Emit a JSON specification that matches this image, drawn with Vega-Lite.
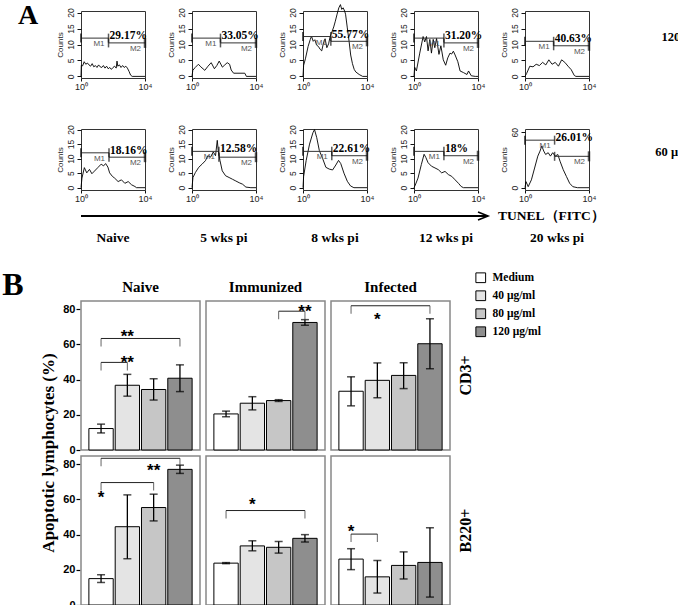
{
"$schema":"https://vega.github.io/schema/vega-lite/v6.json",
"background":"white",
"padding":{"left":2,"top":2,"right":0,"bottom":0},
"config":{"view":{"stroke":"#333","strokeWidth":1},"font":"Liberation Sans","axis":{"labelOverlap":false}},
"datasets":{
"curves":[
{"p":"a1","x":0,"n":0},{"p":"a1","x":0.02,"n":3.5},{"p":"a1","x":0.1,"n":3.3},{"p":"a1","x":0.2,"n":4.6},{"p":"a1","x":0.3,"n":3.8},{"p":"a1","x":0.4,"n":4.2},{"p":"a1","x":0.5,"n":3.6},{"p":"a1","x":0.6,"n":3.2},{"p":"a1","x":0.7,"n":4.0},{"p":"a1","x":0.8,"n":3.0},{"p":"a1","x":0.9,"n":3.4},{"p":"a1","x":1.0,"n":2.8},{"p":"a1","x":1.1,"n":3.6},{"p":"a1","x":1.2,"n":3.0},{"p":"a1","x":1.3,"n":2.8},{"p":"a1","x":1.4,"n":3.4},{"p":"a1","x":1.5,"n":2.6},{"p":"a1","x":1.6,"n":3.2},{"p":"a1","x":1.7,"n":2.4},{"p":"a1","x":1.8,"n":2.8},{"p":"a1","x":1.9,"n":2.2},{"p":"a1","x":2.0,"n":2.8},{"p":"a1","x":2.1,"n":3.2},{"p":"a1","x":2.2,"n":2.6},{"p":"a1","x":2.25,"n":4.8},{"p":"a1","x":2.3,"n":3.2},{"p":"a1","x":2.4,"n":3.6},{"p":"a1","x":2.5,"n":2.8},{"p":"a1","x":2.6,"n":3.4},{"p":"a1","x":2.7,"n":2.8},{"p":"a1","x":2.8,"n":3.2},{"p":"a1","x":2.9,"n":2.6},{"p":"a1","x":3.0,"n":1.6},{"p":"a1","x":3.1,"n":0.4},{"p":"a1","x":3.2,"n":0},{"p":"a1","x":4,"n":0},
{"p":"a2","x":0,"n":0},{"p":"a2","x":0.05,"n":1.9},{"p":"a2","x":0.2,"n":2.8},{"p":"a2","x":0.4,"n":3.8},{"p":"a2","x":0.55,"n":3.0},{"p":"a2","x":0.8,"n":1.9},{"p":"a2","x":1.0,"n":3.2},{"p":"a2","x":1.2,"n":4.3},{"p":"a2","x":1.4,"n":2.4},{"p":"a2","x":1.55,"n":3.4},{"p":"a2","x":1.7,"n":4.8},{"p":"a2","x":1.9,"n":2.9},{"p":"a2","x":2.05,"n":3.6},{"p":"a2","x":2.2,"n":4.3},{"p":"a2","x":2.35,"n":3.8},{"p":"a2","x":2.45,"n":2.0},{"p":"a2","x":2.6,"n":1.0},{"p":"a2","x":3.0,"n":1.0},{"p":"a2","x":3.3,"n":1.0},{"p":"a2","x":3.4,"n":0},{"p":"a2","x":4,"n":0},
{"p":"a3","x":0,"n":0},{"p":"a3","x":0.04,"n":3.5},{"p":"a3","x":0.15,"n":5.5},{"p":"a3","x":0.32,"n":9.4},{"p":"a3","x":0.45,"n":11.5},{"p":"a3","x":0.53,"n":12.6},{"p":"a3","x":0.64,"n":11.0},{"p":"a3","x":0.74,"n":11.5},{"p":"a3","x":0.85,"n":9.8},{"p":"a3","x":0.96,"n":9.4},{"p":"a3","x":1.07,"n":8.5},{"p":"a3","x":1.17,"n":8.0},{"p":"a3","x":1.28,"n":10.5},{"p":"a3","x":1.38,"n":11.8},{"p":"a3","x":1.49,"n":9.0},{"p":"a3","x":1.6,"n":10.2},{"p":"a3","x":1.7,"n":12.6},{"p":"a3","x":1.81,"n":14.0},{"p":"a3","x":1.92,"n":15.5},{"p":"a3","x":2.02,"n":17.3},{"p":"a3","x":2.13,"n":19.5},{"p":"a3","x":2.24,"n":21.5},{"p":"a3","x":2.34,"n":22.5},{"p":"a3","x":2.42,"n":21.0},{"p":"a3","x":2.51,"n":21.5},{"p":"a3","x":2.6,"n":20.5},{"p":"a3","x":2.66,"n":19.5},{"p":"a3","x":2.77,"n":15.2},{"p":"a3","x":2.88,"n":11.0},{"p":"a3","x":2.98,"n":6.7},{"p":"a3","x":3.09,"n":4.0},{"p":"a3","x":3.2,"n":2.2},{"p":"a3","x":3.3,"n":1.4},{"p":"a3","x":3.51,"n":0.6},{"p":"a3","x":3.73,"n":0},{"p":"a3","x":4,"n":0},
{"p":"a4","x":0,"n":0},{"p":"a4","x":0.04,"n":2.9},{"p":"a4","x":0.15,"n":1.7},{"p":"a4","x":0.36,"n":7.3},{"p":"a4","x":0.57,"n":12.5},{"p":"a4","x":0.67,"n":10.8},{"p":"a4","x":0.78,"n":12.5},{"p":"a4","x":0.88,"n":8.0},{"p":"a4","x":0.99,"n":11.6},{"p":"a4","x":1.09,"n":7.3},{"p":"a4","x":1.2,"n":11.6},{"p":"a4","x":1.3,"n":9.0},{"p":"a4","x":1.41,"n":11.9},{"p":"a4","x":1.56,"n":6.9},{"p":"a4","x":1.68,"n":9.6},{"p":"a4","x":1.83,"n":5.2},{"p":"a4","x":1.98,"n":3.5},{"p":"a4","x":2.11,"n":5.8},{"p":"a4","x":2.25,"n":7.3},{"p":"a4","x":2.35,"n":7.0},{"p":"a4","x":2.46,"n":7.9},{"p":"a4","x":2.57,"n":6.7},{"p":"a4","x":2.74,"n":4.6},{"p":"a4","x":2.88,"n":1.7},{"p":"a4","x":3.09,"n":1.2},{"p":"a4","x":3.31,"n":0.6},{"p":"a4","x":3.41,"n":1.7},{"p":"a4","x":3.58,"n":0.2},{"p":"a4","x":3.83,"n":0},{"p":"a4","x":4,"n":0},
{"p":"a5","x":0,"n":0},{"p":"a5","x":0.1,"n":0.9},{"p":"a5","x":0.3,"n":3.2},{"p":"a5","x":0.5,"n":3.0},{"p":"a5","x":0.7,"n":3.8},{"p":"a5","x":0.9,"n":3.4},{"p":"a5","x":1.1,"n":4.4},{"p":"a5","x":1.3,"n":3.6},{"p":"a5","x":1.49,"n":5.2},{"p":"a5","x":1.69,"n":3.8},{"p":"a5","x":1.89,"n":4.4},{"p":"a5","x":2.09,"n":3.2},{"p":"a5","x":2.29,"n":5.2},{"p":"a5","x":2.49,"n":4.4},{"p":"a5","x":2.69,"n":3.2},{"p":"a5","x":2.89,"n":2.1},{"p":"a5","x":3.08,"n":0.3},{"p":"a5","x":3.18,"n":0},{"p":"a5","x":4,"n":0},
{"p":"b1","x":0,"n":0},{"p":"b1","x":0.06,"n":3.3},{"p":"b1","x":0.21,"n":6.9},{"p":"b1","x":0.36,"n":5.1},{"p":"b1","x":0.53,"n":6.3},{"p":"b1","x":0.68,"n":4.8},{"p":"b1","x":0.84,"n":5.7},{"p":"b1","x":1.05,"n":6.9},{"p":"b1","x":1.26,"n":8.1},{"p":"b1","x":1.41,"n":7.5},{"p":"b1","x":1.54,"n":8.3},{"p":"b1","x":1.68,"n":7.1},{"p":"b1","x":1.79,"n":5.1},{"p":"b1","x":1.96,"n":3.9},{"p":"b1","x":2.1,"n":3.3},{"p":"b1","x":2.32,"n":2.1},{"p":"b1","x":2.53,"n":2.7},{"p":"b1","x":2.74,"n":1.5},{"p":"b1","x":2.95,"n":2.1},{"p":"b1","x":3.16,"n":1.0},{"p":"b1","x":3.37,"n":0.4},{"p":"b1","x":3.47,"n":0},{"p":"b1","x":4,"n":0},
{"p":"b2","x":0,"n":0},{"p":"b2","x":0.06,"n":3.5},{"p":"b2","x":0.21,"n":5.2},{"p":"b2","x":0.42,"n":7.0},{"p":"b2","x":0.63,"n":8.1},{"p":"b2","x":0.84,"n":9.3},{"p":"b2","x":0.99,"n":11.0},{"p":"b2","x":1.16,"n":10.5},{"p":"b2","x":1.33,"n":12.3},{"p":"b2","x":1.47,"n":11.0},{"p":"b2","x":1.58,"n":16.3},{"p":"b2","x":1.64,"n":12.8},{"p":"b2","x":1.75,"n":9.3},{"p":"b2","x":1.89,"n":5.8},{"p":"b2","x":2.1,"n":4.1},{"p":"b2","x":2.32,"n":3.5},{"p":"b2","x":2.53,"n":2.9},{"p":"b2","x":2.74,"n":2.3},{"p":"b2","x":2.95,"n":1.7},{"p":"b2","x":3.16,"n":1.2},{"p":"b2","x":3.37,"n":0.2},{"p":"b2","x":3.68,"n":0},{"p":"b2","x":4,"n":0},
{"p":"b3","x":0,"n":0},{"p":"b3","x":0.04,"n":3.9},{"p":"b3","x":0.2,"n":9.4},{"p":"b3","x":0.41,"n":15.0},{"p":"b3","x":0.62,"n":18.9},{"p":"b3","x":0.72,"n":20.0},{"p":"b3","x":0.86,"n":17.2},{"p":"b3","x":1.02,"n":12.8},{"p":"b3","x":1.23,"n":10.0},{"p":"b3","x":1.43,"n":7.0},{"p":"b3","x":1.64,"n":6.4},{"p":"b3","x":1.85,"n":6.1},{"p":"b3","x":2.05,"n":7.8},{"p":"b3","x":2.22,"n":9.4},{"p":"b3","x":2.36,"n":8.3},{"p":"b3","x":2.56,"n":5.0},{"p":"b3","x":2.77,"n":2.2},{"p":"b3","x":2.97,"n":0.6},{"p":"b3","x":3.18,"n":0},{"p":"b3","x":4,"n":0},
{"p":"b4","x":0,"n":0},{"p":"b4","x":0.08,"n":0.9},{"p":"b4","x":0.25,"n":3.3},{"p":"b4","x":0.46,"n":8.0},{"p":"b4","x":0.63,"n":11.5},{"p":"b4","x":0.74,"n":10.4},{"p":"b4","x":0.88,"n":8.6},{"p":"b4","x":1.09,"n":7.4},{"p":"b4","x":1.31,"n":6.8},{"p":"b4","x":1.52,"n":6.2},{"p":"b4","x":1.73,"n":5.1},{"p":"b4","x":1.94,"n":5.6},{"p":"b4","x":2.15,"n":4.5},{"p":"b4","x":2.36,"n":3.9},{"p":"b4","x":2.57,"n":2.7},{"p":"b4","x":2.78,"n":1.5},{"p":"b4","x":2.95,"n":0.4},{"p":"b4","x":3.09,"n":0},{"p":"b4","x":4,"n":0},
{"p":"b5","x":0,"n":0},{"p":"b5","x":0.06,"n":6.6},{"p":"b5","x":0.2,"n":1.1},{"p":"b5","x":0.4,"n":8.5},{"p":"b5","x":0.6,"n":21.3},{"p":"b5","x":0.8,"n":34.2},{"p":"b5","x":0.94,"n":39.7},{"p":"b5","x":1.05,"n":45.2},{"p":"b5","x":1.17,"n":39.7},{"p":"b5","x":1.29,"n":36.0},{"p":"b5","x":1.45,"n":37.9},{"p":"b5","x":1.59,"n":34.2},{"p":"b5","x":1.73,"n":37.9},{"p":"b5","x":1.89,"n":34.2},{"p":"b5","x":2.05,"n":36.0},{"p":"b5","x":2.19,"n":28.7},{"p":"b5","x":2.39,"n":19.5},{"p":"b5","x":2.59,"n":12.1},{"p":"b5","x":2.79,"n":4.8},{"p":"b5","x":2.99,"n":1.1},{"p":"b5","x":3.28,"n":0},{"p":"b5","x":4,"n":0}
],
"gates":[
{"p":"a1","lo":0,"sep":1.72,"hi":4,"m1":12,"m2":10.5,"pct":"29.17%"},
{"p":"a2","lo":0,"sep":1.78,"hi":4,"m1":12,"m2":10.5,"pct":"33.05%"},
{"p":"a3","lo":0,"sep":1.74,"hi":4,"m1":12.5,"m2":11,"pct":"55.77%"},
{"p":"a4","lo":0,"sep":1.87,"hi":4,"m1":12,"m2":10.5,"pct":"31.20%"},
{"p":"a5","lo":0,"sep":1.79,"hi":4,"m1":11,"m2":9.6,"pct":"40.63%"},
{"p":"b1","lo":0,"sep":1.75,"hi":4,"m1":12,"m2":10.5,"pct":"18.16%"},
{"p":"b2","lo":0,"sep":1.68,"hi":4,"m1":12.5,"m2":10.5,"pct":"12.58%"},
{"p":"b3","lo":0,"sep":1.8,"hi":4,"m1":12.5,"m2":11,"pct":"22.61%"},
{"p":"b4","lo":0,"sep":1.87,"hi":4,"m1":12.5,"m2":11,"pct":"18%"},
{"p":"b5","lo":0,"sep":1.85,"hi":4,"m1":51.5,"m2":34,"pct":"26.01%"}
],
"timepoints":[{"t":"Naive"},{"t":"5 wks pi"},{"t":"8 wks pi"},{"t":"12 wks pi"},{"t":"20 wks pi"}],
"panelB":[
{"cell":"CD3+","grp":"Naive","dose":"Medium","mean":12.2,"lo":9.7,"hi":14.7},
{"cell":"CD3+","grp":"Naive","dose":"40","mean":36.8,"lo":30.6,"hi":43.0},
{"cell":"CD3+","grp":"Naive","dose":"80","mean":34.4,"lo":28.4,"hi":40.5},
{"cell":"CD3+","grp":"Naive","dose":"120","mean":40.8,"lo":33.2,"hi":48.4},
{"cell":"CD3+","grp":"Immunized","dose":"Medium","mean":20.5,"lo":18.9,"hi":22.1},
{"cell":"CD3+","grp":"Immunized","dose":"40","mean":26.6,"lo":22.8,"hi":30.3},
{"cell":"CD3+","grp":"Immunized","dose":"80","mean":28.1,"lo":27.6,"hi":28.6},
{"cell":"CD3+","grp":"Immunized","dose":"120","mean":72.5,"lo":70.9,"hi":74.1},
{"cell":"CD3+","grp":"Infected","dose":"Medium","mean":33.4,"lo":25.1,"hi":41.6},
{"cell":"CD3+","grp":"Infected","dose":"40","mean":39.6,"lo":29.7,"hi":49.5},
{"cell":"CD3+","grp":"Infected","dose":"80","mean":42.4,"lo":34.9,"hi":49.6},
{"cell":"CD3+","grp":"Infected","dose":"120","mean":60.4,"lo":46.2,"hi":74.6},
{"cell":"B220+","grp":"Naive","dose":"Medium","mean":15.0,"lo":12.8,"hi":17.2},
{"cell":"B220+","grp":"Naive","dose":"40","mean":44.5,"lo":26.3,"hi":62.6},
{"cell":"B220+","grp":"Naive","dose":"80","mean":55.4,"lo":47.8,"hi":63.0},
{"cell":"B220+","grp":"Naive","dose":"120","mean":77.1,"lo":74.8,"hi":79.5},
{"cell":"B220+","grp":"Immunized","dose":"Medium","mean":23.8,"lo":23.5,"hi":24.1},
{"cell":"B220+","grp":"Immunized","dose":"40","mean":33.6,"lo":30.8,"hi":36.5},
{"cell":"B220+","grp":"Immunized","dose":"80","mean":32.8,"lo":29.5,"hi":36.1},
{"cell":"B220+","grp":"Immunized","dose":"120","mean":37.9,"lo":35.8,"hi":40.0},
{"cell":"B220+","grp":"Infected","dose":"Medium","mean":26.1,"lo":20.1,"hi":32.0},
{"cell":"B220+","grp":"Infected","dose":"40","mean":16.0,"lo":6.8,"hi":25.3},
{"cell":"B220+","grp":"Infected","dose":"80","mean":22.5,"lo":14.8,"hi":30.2},
{"cell":"B220+","grp":"Infected","dose":"120","mean":24.2,"lo":4.5,"hi":43.9},
{"cell":"CD3+","grp":"Naive","bk":"c1","end":"Medium","level":63.4},{"cell":"CD3+","grp":"Naive","bk":"c1","end":"120","level":63.4},
{"cell":"CD3+","grp":"Naive","bk":"c2","end":"Medium","level":49.8},{"cell":"CD3+","grp":"Naive","bk":"c2","end":"40","level":49.8},
{"cell":"CD3+","grp":"Immunized","bk":"c3","end":"80","level":78.9},{"cell":"CD3+","grp":"Immunized","bk":"c3","end":"120","level":78.9},
{"cell":"CD3+","grp":"Infected","bk":"c4","end":"Medium","level":82},{"cell":"CD3+","grp":"Infected","bk":"c4","end":"120","level":82},
{"cell":"B220+","grp":"Naive","bk":"d1","end":"Medium","level":83.4},{"cell":"B220+","grp":"Naive","bk":"d1","end":"120","level":83.4},
{"cell":"B220+","grp":"Naive","bk":"d2","end":"Medium","level":69.6},{"cell":"B220+","grp":"Naive","bk":"d2","end":"80","level":69.6},
{"cell":"B220+","grp":"Immunized","bk":"d3","end":"Medium","level":53.7},{"cell":"B220+","grp":"Immunized","bk":"d3","end":"120","level":53.7},
{"cell":"B220+","grp":"Infected","bk":"d4","end":"Medium","level":40.3},{"cell":"B220+","grp":"Infected","bk":"d4","end":"40","level":40.3},
{"cell":"CD3+","grp":"Naive","stars":"**","at":"40","sy":66.5},
{"cell":"CD3+","grp":"Naive","stars":"**","at":"40","sy":51.8},
{"cell":"CD3+","grp":"Immunized","stars":"**","at":"120","sy":80.8},
{"cell":"CD3+","grp":"Infected","stars":"*","at":"40","sy":76},
{"cell":"B220+","grp":"Naive","stars":"**","at":"80","sy":78.6},
{"cell":"B220+","grp":"Naive","stars":"*","at":"Medium","sy":63},
{"cell":"B220+","grp":"Immunized","stars":"*","at":"40","sy":59.2},
{"cell":"B220+","grp":"Infected","stars":"*","at":"Medium","sy":43.7}
]
},
"columns":1,
"align":"none",
"spacing":21,
"concat":[
{
"title":{"text":"A","orient":"left","angle":0,"anchor":"end","align":"right","baseline":"top","offset":-3,"font":"Liberation Serif","fontSize":28,"fontWeight":"bold","color":"black"},
"spacing":4,
"vconcat":[
{"columns":5,"bounds":"flush","spacing":{"row":51,"column":47},"concat":[
{"width":64,"height":67,"layer":[
{"data":{"name":"curves"},"transform":[{"filter":"datum.p == 'a1'"}],"mark":{"type":"line","color":"black","strokeWidth":0.9},"encoding":{"x":{"field":"x","type":"quantitative","scale":{"domain":[0,4],"nice":false,"zero":false},"axis":{"title":null,"values":[0,0.301,0.477,0.602,0.699,0.778,0.845,0.903,0.954,1,1.301,1.477,1.602,1.699,1.778,1.845,1.903,1.954,2,2.301,2.477,2.602,2.699,2.778,2.845,2.903,2.954,3,3.301,3.477,3.602,3.699,3.778,3.845,3.903,3.954,4],"labelExpr":"datum.value == 0 ? '10⁰' : (datum.value == 4 ? '10⁴' : '')","labelOverlap":false,"labelFlush":false,"labelFontSize":9,"labelColor":"#222","labelPadding":1,"tickSize":3,"tickColor":"#111","domain":false,"grid":false}},"y":{"field":"n","type":"quantitative","scale":{"domain":[-0.5,20.5],"nice":false,"zero":false},"axis":{"title":"Counts","values":[0,5,10,15,20],"labelAngle":-90,"labelOverlap":false,"labelFontSize":8.5,"labelColor":"#222","labelPadding":2,"tickSize":4,"tickColor":"#111","domain":false,"grid":false,"titleFontSize":8,"titleFontWeight":"normal","titleColor":"#222","titlePadding":2}}}},
{"data":{"name":"gates"},"transform":[{"filter":"datum.p == 'a1'"}],"layer":[
{"mark":{"type":"rule","color":"#333","strokeWidth":1},"encoding":{"x":{"field":"lo","type":"quantitative","title":null},"x2":{"field":"sep"},"y":{"field":"m1","type":"quantitative","axis":{"title":"Counts","values":[0,5,10,15,20],"labelAngle":-90,"labelOverlap":false}}}},
{"mark":{"type":"rule","color":"#333","strokeWidth":1},"encoding":{"x":{"field":"sep","type":"quantitative","title":null},"x2":{"field":"hi"},"y":{"field":"m2","type":"quantitative","axis":{"title":"Counts","values":[0,5,10,15,20],"labelAngle":-90,"labelOverlap":false}}}},
{"mark":{"type":"tick","orient":"vertical","size":9,"thickness":1.5,"color":"#111"},"encoding":{"x":{"field":"sep","type":"quantitative","title":null},"y":{"field":"m1","type":"quantitative","axis":{"title":"Counts","values":[0,5,10,15,20],"labelAngle":-90,"labelOverlap":false}}}},
{"mark":{"type":"tick","orient":"vertical","size":9,"thickness":1.5,"color":"#111"},"encoding":{"x":{"field":"sep","type":"quantitative","title":null},"y":{"field":"m2","type":"quantitative","axis":{"title":"Counts","values":[0,5,10,15,20],"labelAngle":-90,"labelOverlap":false}}}},
{"mark":{"type":"tick","orient":"vertical","size":9,"thickness":2,"color":"#111"},"encoding":{"x":{"field":"lo","type":"quantitative","title":null},"y":{"field":"m1","type":"quantitative","axis":{"title":"Counts","values":[0,5,10,15,20],"labelAngle":-90,"labelOverlap":false}}}},
{"mark":{"type":"tick","orient":"vertical","size":10,"thickness":2.5,"color":"#111"},"encoding":{"x":{"field":"hi","type":"quantitative","title":null},"y":{"field":"m2","type":"quantitative","axis":{"title":"Counts","values":[0,5,10,15,20],"labelAngle":-90,"labelOverlap":false}}}},
{"mark":{"type":"text","align":"left","baseline":"alphabetic","dx":1,"dy":1,"font":"Liberation Serif","fontWeight":"bold","fontSize":11.5,"color":"black"},"encoding":{"x":{"field":"sep","type":"quantitative","title":null},"y":{"field":"m1","type":"quantitative","axis":{"title":"Counts","values":[0,5,10,15,20],"labelAngle":-90,"labelOverlap":false}},"text":{"field":"pct"}}},
{"mark":{"type":"text","align":"right","baseline":"top","dx":-4,"dy":2,"fontSize":8,"color":"#555"},"encoding":{"x":{"field":"sep","type":"quantitative","title":null},"y":{"field":"m1","type":"quantitative","axis":{"title":"Counts","values":[0,5,10,15,20],"labelAngle":-90,"labelOverlap":false}},"text":{"value":"M1"}}},
{"mark":{"type":"text","align":"right","baseline":"top","dx":-4,"dy":2,"fontSize":8,"color":"#555"},"encoding":{"x":{"field":"hi","type":"quantitative","title":null},"y":{"field":"m2","type":"quantitative","axis":{"title":"Counts","values":[0,5,10,15,20],"labelAngle":-90,"labelOverlap":false}},"text":{"value":"M2"}}}
]}]},
{"width":64,"height":67,"layer":[
{"data":{"name":"curves"},"transform":[{"filter":"datum.p == 'a2'"}],"mark":{"type":"line","color":"black","strokeWidth":0.9},"encoding":{"x":{"field":"x","type":"quantitative","scale":{"domain":[0,4],"nice":false,"zero":false},"axis":{"title":null,"values":[0,0.301,0.477,0.602,0.699,0.778,0.845,0.903,0.954,1,1.301,1.477,1.602,1.699,1.778,1.845,1.903,1.954,2,2.301,2.477,2.602,2.699,2.778,2.845,2.903,2.954,3,3.301,3.477,3.602,3.699,3.778,3.845,3.903,3.954,4],"labelExpr":"datum.value == 0 ? '10⁰' : (datum.value == 4 ? '10⁴' : '')","labelOverlap":false,"labelFlush":false,"labelFontSize":9,"labelColor":"#222","labelPadding":1,"tickSize":3,"tickColor":"#111","domain":false,"grid":false}},"y":{"field":"n","type":"quantitative","scale":{"domain":[-0.5,20.5],"nice":false,"zero":false},"axis":{"title":"Counts","values":[0,5,10,15,20],"labelAngle":-90,"labelOverlap":false,"labelFontSize":8.5,"labelColor":"#222","labelPadding":2,"tickSize":4,"tickColor":"#111","domain":false,"grid":false,"titleFontSize":8,"titleFontWeight":"normal","titleColor":"#222","titlePadding":2}}}},
{"data":{"name":"gates"},"transform":[{"filter":"datum.p == 'a2'"}],"layer":[
{"mark":{"type":"rule","color":"#333","strokeWidth":1},"encoding":{"x":{"field":"lo","type":"quantitative","title":null},"x2":{"field":"sep"},"y":{"field":"m1","type":"quantitative","axis":{"title":"Counts","values":[0,5,10,15,20],"labelAngle":-90,"labelOverlap":false}}}},
{"mark":{"type":"rule","color":"#333","strokeWidth":1},"encoding":{"x":{"field":"sep","type":"quantitative","title":null},"x2":{"field":"hi"},"y":{"field":"m2","type":"quantitative","axis":{"title":"Counts","values":[0,5,10,15,20],"labelAngle":-90,"labelOverlap":false}}}},
{"mark":{"type":"tick","orient":"vertical","size":9,"thickness":1.5,"color":"#111"},"encoding":{"x":{"field":"sep","type":"quantitative","title":null},"y":{"field":"m1","type":"quantitative","axis":{"title":"Counts","values":[0,5,10,15,20],"labelAngle":-90,"labelOverlap":false}}}},
{"mark":{"type":"tick","orient":"vertical","size":9,"thickness":1.5,"color":"#111"},"encoding":{"x":{"field":"sep","type":"quantitative","title":null},"y":{"field":"m2","type":"quantitative","axis":{"title":"Counts","values":[0,5,10,15,20],"labelAngle":-90,"labelOverlap":false}}}},
{"mark":{"type":"tick","orient":"vertical","size":9,"thickness":2,"color":"#111"},"encoding":{"x":{"field":"lo","type":"quantitative","title":null},"y":{"field":"m1","type":"quantitative","axis":{"title":"Counts","values":[0,5,10,15,20],"labelAngle":-90,"labelOverlap":false}}}},
{"mark":{"type":"tick","orient":"vertical","size":10,"thickness":2.5,"color":"#111"},"encoding":{"x":{"field":"hi","type":"quantitative","title":null},"y":{"field":"m2","type":"quantitative","axis":{"title":"Counts","values":[0,5,10,15,20],"labelAngle":-90,"labelOverlap":false}}}},
{"mark":{"type":"text","align":"left","baseline":"alphabetic","dx":1,"dy":1,"font":"Liberation Serif","fontWeight":"bold","fontSize":11.5,"color":"black"},"encoding":{"x":{"field":"sep","type":"quantitative","title":null},"y":{"field":"m1","type":"quantitative","axis":{"title":"Counts","values":[0,5,10,15,20],"labelAngle":-90,"labelOverlap":false}},"text":{"field":"pct"}}},
{"mark":{"type":"text","align":"right","baseline":"top","dx":-4,"dy":2,"fontSize":8,"color":"#555"},"encoding":{"x":{"field":"sep","type":"quantitative","title":null},"y":{"field":"m1","type":"quantitative","axis":{"title":"Counts","values":[0,5,10,15,20],"labelAngle":-90,"labelOverlap":false}},"text":{"value":"M1"}}},
{"mark":{"type":"text","align":"right","baseline":"top","dx":-4,"dy":2,"fontSize":8,"color":"#555"},"encoding":{"x":{"field":"hi","type":"quantitative","title":null},"y":{"field":"m2","type":"quantitative","axis":{"title":"Counts","values":[0,5,10,15,20],"labelAngle":-90,"labelOverlap":false}},"text":{"value":"M2"}}}
]}]},
{"width":64,"height":67,"layer":[
{"data":{"name":"curves"},"transform":[{"filter":"datum.p == 'a3'"}],"mark":{"type":"line","color":"black","strokeWidth":0.9},"encoding":{"x":{"field":"x","type":"quantitative","scale":{"domain":[0,4],"nice":false,"zero":false},"axis":{"title":null,"values":[0,0.301,0.477,0.602,0.699,0.778,0.845,0.903,0.954,1,1.301,1.477,1.602,1.699,1.778,1.845,1.903,1.954,2,2.301,2.477,2.602,2.699,2.778,2.845,2.903,2.954,3,3.301,3.477,3.602,3.699,3.778,3.845,3.903,3.954,4],"labelExpr":"datum.value == 0 ? '10⁰' : (datum.value == 4 ? '10⁴' : '')","labelOverlap":false,"labelFlush":false,"labelFontSize":9,"labelColor":"#222","labelPadding":1,"tickSize":3,"tickColor":"#111","domain":false,"grid":false}},"y":{"field":"n","type":"quantitative","scale":{"domain":[-0.5,20.5],"nice":false,"zero":false},"axis":{"title":"Counts","values":[0,5,10,15,20],"labelAngle":-90,"labelOverlap":false,"labelFontSize":8.5,"labelColor":"#222","labelPadding":2,"tickSize":4,"tickColor":"#111","domain":false,"grid":false,"titleFontSize":8,"titleFontWeight":"normal","titleColor":"#222","titlePadding":2}}}},
{"data":{"name":"gates"},"transform":[{"filter":"datum.p == 'a3'"}],"layer":[
{"mark":{"type":"rule","color":"#333","strokeWidth":1},"encoding":{"x":{"field":"lo","type":"quantitative","title":null},"x2":{"field":"sep"},"y":{"field":"m1","type":"quantitative","axis":{"title":"Counts","values":[0,5,10,15,20],"labelAngle":-90,"labelOverlap":false}}}},
{"mark":{"type":"rule","color":"#333","strokeWidth":1},"encoding":{"x":{"field":"sep","type":"quantitative","title":null},"x2":{"field":"hi"},"y":{"field":"m2","type":"quantitative","axis":{"title":"Counts","values":[0,5,10,15,20],"labelAngle":-90,"labelOverlap":false}}}},
{"mark":{"type":"tick","orient":"vertical","size":9,"thickness":1.5,"color":"#111"},"encoding":{"x":{"field":"sep","type":"quantitative","title":null},"y":{"field":"m1","type":"quantitative","axis":{"title":"Counts","values":[0,5,10,15,20],"labelAngle":-90,"labelOverlap":false}}}},
{"mark":{"type":"tick","orient":"vertical","size":9,"thickness":1.5,"color":"#111"},"encoding":{"x":{"field":"sep","type":"quantitative","title":null},"y":{"field":"m2","type":"quantitative","axis":{"title":"Counts","values":[0,5,10,15,20],"labelAngle":-90,"labelOverlap":false}}}},
{"mark":{"type":"tick","orient":"vertical","size":9,"thickness":2,"color":"#111"},"encoding":{"x":{"field":"lo","type":"quantitative","title":null},"y":{"field":"m1","type":"quantitative","axis":{"title":"Counts","values":[0,5,10,15,20],"labelAngle":-90,"labelOverlap":false}}}},
{"mark":{"type":"tick","orient":"vertical","size":10,"thickness":2.5,"color":"#111"},"encoding":{"x":{"field":"hi","type":"quantitative","title":null},"y":{"field":"m2","type":"quantitative","axis":{"title":"Counts","values":[0,5,10,15,20],"labelAngle":-90,"labelOverlap":false}}}},
{"mark":{"type":"text","align":"left","baseline":"alphabetic","dx":1,"dy":1,"font":"Liberation Serif","fontWeight":"bold","fontSize":11.5,"color":"black"},"encoding":{"x":{"field":"sep","type":"quantitative","title":null},"y":{"field":"m1","type":"quantitative","axis":{"title":"Counts","values":[0,5,10,15,20],"labelAngle":-90,"labelOverlap":false}},"text":{"field":"pct"}}},
{"mark":{"type":"text","align":"right","baseline":"top","dx":-4,"dy":2,"fontSize":8,"color":"#555"},"encoding":{"x":{"field":"sep","type":"quantitative","title":null},"y":{"field":"m1","type":"quantitative","axis":{"title":"Counts","values":[0,5,10,15,20],"labelAngle":-90,"labelOverlap":false}},"text":{"value":"M1"}}},
{"mark":{"type":"text","align":"right","baseline":"top","dx":-4,"dy":2,"fontSize":8,"color":"#555"},"encoding":{"x":{"field":"hi","type":"quantitative","title":null},"y":{"field":"m2","type":"quantitative","axis":{"title":"Counts","values":[0,5,10,15,20],"labelAngle":-90,"labelOverlap":false}},"text":{"value":"M2"}}}
]}]},
{"width":64,"height":67,"layer":[
{"data":{"name":"curves"},"transform":[{"filter":"datum.p == 'a4'"}],"mark":{"type":"line","color":"black","strokeWidth":0.9},"encoding":{"x":{"field":"x","type":"quantitative","scale":{"domain":[0,4],"nice":false,"zero":false},"axis":{"title":null,"values":[0,0.301,0.477,0.602,0.699,0.778,0.845,0.903,0.954,1,1.301,1.477,1.602,1.699,1.778,1.845,1.903,1.954,2,2.301,2.477,2.602,2.699,2.778,2.845,2.903,2.954,3,3.301,3.477,3.602,3.699,3.778,3.845,3.903,3.954,4],"labelExpr":"datum.value == 0 ? '10⁰' : (datum.value == 4 ? '10⁴' : '')","labelOverlap":false,"labelFlush":false,"labelFontSize":9,"labelColor":"#222","labelPadding":1,"tickSize":3,"tickColor":"#111","domain":false,"grid":false}},"y":{"field":"n","type":"quantitative","scale":{"domain":[-0.5,20.5],"nice":false,"zero":false},"axis":{"title":"Counts","values":[0,5,10,15,20],"labelAngle":-90,"labelOverlap":false,"labelFontSize":8.5,"labelColor":"#222","labelPadding":2,"tickSize":4,"tickColor":"#111","domain":false,"grid":false,"titleFontSize":8,"titleFontWeight":"normal","titleColor":"#222","titlePadding":2}}}},
{"data":{"name":"gates"},"transform":[{"filter":"datum.p == 'a4'"}],"layer":[
{"mark":{"type":"rule","color":"#333","strokeWidth":1},"encoding":{"x":{"field":"lo","type":"quantitative","title":null},"x2":{"field":"sep"},"y":{"field":"m1","type":"quantitative","axis":{"title":"Counts","values":[0,5,10,15,20],"labelAngle":-90,"labelOverlap":false}}}},
{"mark":{"type":"rule","color":"#333","strokeWidth":1},"encoding":{"x":{"field":"sep","type":"quantitative","title":null},"x2":{"field":"hi"},"y":{"field":"m2","type":"quantitative","axis":{"title":"Counts","values":[0,5,10,15,20],"labelAngle":-90,"labelOverlap":false}}}},
{"mark":{"type":"tick","orient":"vertical","size":9,"thickness":1.5,"color":"#111"},"encoding":{"x":{"field":"sep","type":"quantitative","title":null},"y":{"field":"m1","type":"quantitative","axis":{"title":"Counts","values":[0,5,10,15,20],"labelAngle":-90,"labelOverlap":false}}}},
{"mark":{"type":"tick","orient":"vertical","size":9,"thickness":1.5,"color":"#111"},"encoding":{"x":{"field":"sep","type":"quantitative","title":null},"y":{"field":"m2","type":"quantitative","axis":{"title":"Counts","values":[0,5,10,15,20],"labelAngle":-90,"labelOverlap":false}}}},
{"mark":{"type":"tick","orient":"vertical","size":9,"thickness":2,"color":"#111"},"encoding":{"x":{"field":"lo","type":"quantitative","title":null},"y":{"field":"m1","type":"quantitative","axis":{"title":"Counts","values":[0,5,10,15,20],"labelAngle":-90,"labelOverlap":false}}}},
{"mark":{"type":"tick","orient":"vertical","size":10,"thickness":2.5,"color":"#111"},"encoding":{"x":{"field":"hi","type":"quantitative","title":null},"y":{"field":"m2","type":"quantitative","axis":{"title":"Counts","values":[0,5,10,15,20],"labelAngle":-90,"labelOverlap":false}}}},
{"mark":{"type":"text","align":"left","baseline":"alphabetic","dx":1,"dy":1,"font":"Liberation Serif","fontWeight":"bold","fontSize":11.5,"color":"black"},"encoding":{"x":{"field":"sep","type":"quantitative","title":null},"y":{"field":"m1","type":"quantitative","axis":{"title":"Counts","values":[0,5,10,15,20],"labelAngle":-90,"labelOverlap":false}},"text":{"field":"pct"}}},
{"mark":{"type":"text","align":"right","baseline":"top","dx":-4,"dy":2,"fontSize":8,"color":"#555"},"encoding":{"x":{"field":"sep","type":"quantitative","title":null},"y":{"field":"m1","type":"quantitative","axis":{"title":"Counts","values":[0,5,10,15,20],"labelAngle":-90,"labelOverlap":false}},"text":{"value":"M1"}}},
{"mark":{"type":"text","align":"right","baseline":"top","dx":-4,"dy":2,"fontSize":8,"color":"#555"},"encoding":{"x":{"field":"hi","type":"quantitative","title":null},"y":{"field":"m2","type":"quantitative","axis":{"title":"Counts","values":[0,5,10,15,20],"labelAngle":-90,"labelOverlap":false}},"text":{"value":"M2"}}}
]}]},
{"width":64,"height":67,
"title":{"text":"120 μg/ml","orient":"right","angle":0,"align":"left","baseline":"middle","anchor":"middle","offset":13,"dy":-8,"font":"Liberation Serif","fontWeight":"bold","fontSize":12.5,"color":"black"},
"layer":[
{"data":{"name":"curves"},"transform":[{"filter":"datum.p == 'a5'"}],"mark":{"type":"line","color":"black","strokeWidth":0.9},"encoding":{"x":{"field":"x","type":"quantitative","scale":{"domain":[0,4],"nice":false,"zero":false},"axis":{"title":null,"values":[0,0.301,0.477,0.602,0.699,0.778,0.845,0.903,0.954,1,1.301,1.477,1.602,1.699,1.778,1.845,1.903,1.954,2,2.301,2.477,2.602,2.699,2.778,2.845,2.903,2.954,3,3.301,3.477,3.602,3.699,3.778,3.845,3.903,3.954,4],"labelExpr":"datum.value == 0 ? '10⁰' : (datum.value == 4 ? '10⁴' : '')","labelOverlap":false,"labelFlush":false,"labelFontSize":9,"labelColor":"#222","labelPadding":1,"tickSize":3,"tickColor":"#111","domain":false,"grid":false}},"y":{"field":"n","type":"quantitative","scale":{"domain":[-0.5,20.5],"nice":false,"zero":false},"axis":{"title":"Counts","values":[0,5,10,15,20],"labelAngle":-90,"labelOverlap":false,"labelFontSize":8.5,"labelColor":"#222","labelPadding":2,"tickSize":4,"tickColor":"#111","domain":false,"grid":false,"titleFontSize":8,"titleFontWeight":"normal","titleColor":"#222","titlePadding":2}}}},
{"data":{"name":"gates"},"transform":[{"filter":"datum.p == 'a5'"}],"layer":[
{"mark":{"type":"rule","color":"#333","strokeWidth":1},"encoding":{"x":{"field":"lo","type":"quantitative","title":null},"x2":{"field":"sep"},"y":{"field":"m1","type":"quantitative","axis":{"title":"Counts","values":[0,5,10,15,20],"labelAngle":-90,"labelOverlap":false}}}},
{"mark":{"type":"rule","color":"#333","strokeWidth":1},"encoding":{"x":{"field":"sep","type":"quantitative","title":null},"x2":{"field":"hi"},"y":{"field":"m2","type":"quantitative","axis":{"title":"Counts","values":[0,5,10,15,20],"labelAngle":-90,"labelOverlap":false}}}},
{"mark":{"type":"tick","orient":"vertical","size":9,"thickness":1.5,"color":"#111"},"encoding":{"x":{"field":"sep","type":"quantitative","title":null},"y":{"field":"m1","type":"quantitative","axis":{"title":"Counts","values":[0,5,10,15,20],"labelAngle":-90,"labelOverlap":false}}}},
{"mark":{"type":"tick","orient":"vertical","size":9,"thickness":1.5,"color":"#111"},"encoding":{"x":{"field":"sep","type":"quantitative","title":null},"y":{"field":"m2","type":"quantitative","axis":{"title":"Counts","values":[0,5,10,15,20],"labelAngle":-90,"labelOverlap":false}}}},
{"mark":{"type":"tick","orient":"vertical","size":9,"thickness":2,"color":"#111"},"encoding":{"x":{"field":"lo","type":"quantitative","title":null},"y":{"field":"m1","type":"quantitative","axis":{"title":"Counts","values":[0,5,10,15,20],"labelAngle":-90,"labelOverlap":false}}}},
{"mark":{"type":"tick","orient":"vertical","size":10,"thickness":2.5,"color":"#111"},"encoding":{"x":{"field":"hi","type":"quantitative","title":null},"y":{"field":"m2","type":"quantitative","axis":{"title":"Counts","values":[0,5,10,15,20],"labelAngle":-90,"labelOverlap":false}}}},
{"mark":{"type":"text","align":"left","baseline":"alphabetic","dx":1,"dy":1,"font":"Liberation Serif","fontWeight":"bold","fontSize":11.5,"color":"black"},"encoding":{"x":{"field":"sep","type":"quantitative","title":null},"y":{"field":"m1","type":"quantitative","axis":{"title":"Counts","values":[0,5,10,15,20],"labelAngle":-90,"labelOverlap":false}},"text":{"field":"pct"}}},
{"mark":{"type":"text","align":"right","baseline":"top","dx":-4,"dy":2,"fontSize":8,"color":"#555"},"encoding":{"x":{"field":"sep","type":"quantitative","title":null},"y":{"field":"m1","type":"quantitative","axis":{"title":"Counts","values":[0,5,10,15,20],"labelAngle":-90,"labelOverlap":false}},"text":{"value":"M1"}}},
{"mark":{"type":"text","align":"right","baseline":"top","dx":-4,"dy":2,"fontSize":8,"color":"#555"},"encoding":{"x":{"field":"hi","type":"quantitative","title":null},"y":{"field":"m2","type":"quantitative","axis":{"title":"Counts","values":[0,5,10,15,20],"labelAngle":-90,"labelOverlap":false}},"text":{"value":"M2"}}}
]}]},
{"width":64,"height":61,"layer":[
{"data":{"name":"curves"},"transform":[{"filter":"datum.p == 'b1'"}],"mark":{"type":"line","color":"black","strokeWidth":0.9},"encoding":{"x":{"field":"x","type":"quantitative","scale":{"domain":[0,4],"nice":false,"zero":false},"axis":{"title":null,"values":[0,0.301,0.477,0.602,0.699,0.778,0.845,0.903,0.954,1,1.301,1.477,1.602,1.699,1.778,1.845,1.903,1.954,2,2.301,2.477,2.602,2.699,2.778,2.845,2.903,2.954,3,3.301,3.477,3.602,3.699,3.778,3.845,3.903,3.954,4],"labelExpr":"datum.value == 0 ? '10⁰' : (datum.value == 4 ? '10⁴' : '')","labelOverlap":false,"labelFlush":false,"labelFontSize":9,"labelColor":"#222","labelPadding":1,"tickSize":3,"tickColor":"#111","domain":false,"grid":false}},"y":{"field":"n","type":"quantitative","scale":{"domain":[-0.8,20.2],"nice":false,"zero":false},"axis":{"title":"Counts","values":[0,5,10,15,20],"labelAngle":-90,"labelOverlap":false,"labelFontSize":8.5,"labelColor":"#222","labelPadding":2,"tickSize":4,"tickColor":"#111","domain":false,"grid":false,"titleFontSize":8,"titleFontWeight":"normal","titleColor":"#222","titlePadding":2}}}},
{"data":{"name":"gates"},"transform":[{"filter":"datum.p == 'b1'"}],"layer":[
{"mark":{"type":"rule","color":"#333","strokeWidth":1},"encoding":{"x":{"field":"lo","type":"quantitative","title":null},"x2":{"field":"sep"},"y":{"field":"m1","type":"quantitative","axis":{"title":"Counts","values":[0,5,10,15,20],"labelAngle":-90,"labelOverlap":false}}}},
{"mark":{"type":"rule","color":"#333","strokeWidth":1},"encoding":{"x":{"field":"sep","type":"quantitative","title":null},"x2":{"field":"hi"},"y":{"field":"m2","type":"quantitative","axis":{"title":"Counts","values":[0,5,10,15,20],"labelAngle":-90,"labelOverlap":false}}}},
{"mark":{"type":"tick","orient":"vertical","size":9,"thickness":1.5,"color":"#111"},"encoding":{"x":{"field":"sep","type":"quantitative","title":null},"y":{"field":"m1","type":"quantitative","axis":{"title":"Counts","values":[0,5,10,15,20],"labelAngle":-90,"labelOverlap":false}}}},
{"mark":{"type":"tick","orient":"vertical","size":9,"thickness":1.5,"color":"#111"},"encoding":{"x":{"field":"sep","type":"quantitative","title":null},"y":{"field":"m2","type":"quantitative","axis":{"title":"Counts","values":[0,5,10,15,20],"labelAngle":-90,"labelOverlap":false}}}},
{"mark":{"type":"tick","orient":"vertical","size":9,"thickness":2,"color":"#111"},"encoding":{"x":{"field":"lo","type":"quantitative","title":null},"y":{"field":"m1","type":"quantitative","axis":{"title":"Counts","values":[0,5,10,15,20],"labelAngle":-90,"labelOverlap":false}}}},
{"mark":{"type":"tick","orient":"vertical","size":10,"thickness":2.5,"color":"#111"},"encoding":{"x":{"field":"hi","type":"quantitative","title":null},"y":{"field":"m2","type":"quantitative","axis":{"title":"Counts","values":[0,5,10,15,20],"labelAngle":-90,"labelOverlap":false}}}},
{"mark":{"type":"text","align":"left","baseline":"alphabetic","dx":1,"dy":1,"font":"Liberation Serif","fontWeight":"bold","fontSize":11.5,"color":"black"},"encoding":{"x":{"field":"sep","type":"quantitative","title":null},"y":{"field":"m1","type":"quantitative","axis":{"title":"Counts","values":[0,5,10,15,20],"labelAngle":-90,"labelOverlap":false}},"text":{"field":"pct"}}},
{"mark":{"type":"text","align":"right","baseline":"top","dx":-4,"dy":2,"fontSize":8,"color":"#555"},"encoding":{"x":{"field":"sep","type":"quantitative","title":null},"y":{"field":"m1","type":"quantitative","axis":{"title":"Counts","values":[0,5,10,15,20],"labelAngle":-90,"labelOverlap":false}},"text":{"value":"M1"}}},
{"mark":{"type":"text","align":"right","baseline":"top","dx":-4,"dy":2,"fontSize":8,"color":"#555"},"encoding":{"x":{"field":"hi","type":"quantitative","title":null},"y":{"field":"m2","type":"quantitative","axis":{"title":"Counts","values":[0,5,10,15,20],"labelAngle":-90,"labelOverlap":false}},"text":{"value":"M2"}}}
]}]},
{"width":64,"height":61,"layer":[
{"data":{"name":"curves"},"transform":[{"filter":"datum.p == 'b2'"}],"mark":{"type":"line","color":"black","strokeWidth":0.9},"encoding":{"x":{"field":"x","type":"quantitative","scale":{"domain":[0,4],"nice":false,"zero":false},"axis":{"title":null,"values":[0,0.301,0.477,0.602,0.699,0.778,0.845,0.903,0.954,1,1.301,1.477,1.602,1.699,1.778,1.845,1.903,1.954,2,2.301,2.477,2.602,2.699,2.778,2.845,2.903,2.954,3,3.301,3.477,3.602,3.699,3.778,3.845,3.903,3.954,4],"labelExpr":"datum.value == 0 ? '10⁰' : (datum.value == 4 ? '10⁴' : '')","labelOverlap":false,"labelFlush":false,"labelFontSize":9,"labelColor":"#222","labelPadding":1,"tickSize":3,"tickColor":"#111","domain":false,"grid":false}},"y":{"field":"n","type":"quantitative","scale":{"domain":[-0.8,20.2],"nice":false,"zero":false},"axis":{"title":"Counts","values":[0,5,10,15,20],"labelAngle":-90,"labelOverlap":false,"labelFontSize":8.5,"labelColor":"#222","labelPadding":2,"tickSize":4,"tickColor":"#111","domain":false,"grid":false,"titleFontSize":8,"titleFontWeight":"normal","titleColor":"#222","titlePadding":2}}}},
{"data":{"name":"gates"},"transform":[{"filter":"datum.p == 'b2'"}],"layer":[
{"mark":{"type":"rule","color":"#333","strokeWidth":1},"encoding":{"x":{"field":"lo","type":"quantitative","title":null},"x2":{"field":"sep"},"y":{"field":"m1","type":"quantitative","axis":{"title":"Counts","values":[0,5,10,15,20],"labelAngle":-90,"labelOverlap":false}}}},
{"mark":{"type":"rule","color":"#333","strokeWidth":1},"encoding":{"x":{"field":"sep","type":"quantitative","title":null},"x2":{"field":"hi"},"y":{"field":"m2","type":"quantitative","axis":{"title":"Counts","values":[0,5,10,15,20],"labelAngle":-90,"labelOverlap":false}}}},
{"mark":{"type":"tick","orient":"vertical","size":9,"thickness":1.5,"color":"#111"},"encoding":{"x":{"field":"sep","type":"quantitative","title":null},"y":{"field":"m1","type":"quantitative","axis":{"title":"Counts","values":[0,5,10,15,20],"labelAngle":-90,"labelOverlap":false}}}},
{"mark":{"type":"tick","orient":"vertical","size":9,"thickness":1.5,"color":"#111"},"encoding":{"x":{"field":"sep","type":"quantitative","title":null},"y":{"field":"m2","type":"quantitative","axis":{"title":"Counts","values":[0,5,10,15,20],"labelAngle":-90,"labelOverlap":false}}}},
{"mark":{"type":"tick","orient":"vertical","size":9,"thickness":2,"color":"#111"},"encoding":{"x":{"field":"lo","type":"quantitative","title":null},"y":{"field":"m1","type":"quantitative","axis":{"title":"Counts","values":[0,5,10,15,20],"labelAngle":-90,"labelOverlap":false}}}},
{"mark":{"type":"tick","orient":"vertical","size":10,"thickness":2.5,"color":"#111"},"encoding":{"x":{"field":"hi","type":"quantitative","title":null},"y":{"field":"m2","type":"quantitative","axis":{"title":"Counts","values":[0,5,10,15,20],"labelAngle":-90,"labelOverlap":false}}}},
{"mark":{"type":"text","align":"left","baseline":"alphabetic","dx":1,"dy":1,"font":"Liberation Serif","fontWeight":"bold","fontSize":11.5,"color":"black"},"encoding":{"x":{"field":"sep","type":"quantitative","title":null},"y":{"field":"m1","type":"quantitative","axis":{"title":"Counts","values":[0,5,10,15,20],"labelAngle":-90,"labelOverlap":false}},"text":{"field":"pct"}}},
{"mark":{"type":"text","align":"right","baseline":"top","dx":-4,"dy":2,"fontSize":8,"color":"#555"},"encoding":{"x":{"field":"sep","type":"quantitative","title":null},"y":{"field":"m1","type":"quantitative","axis":{"title":"Counts","values":[0,5,10,15,20],"labelAngle":-90,"labelOverlap":false}},"text":{"value":"M1"}}},
{"mark":{"type":"text","align":"right","baseline":"top","dx":-4,"dy":2,"fontSize":8,"color":"#555"},"encoding":{"x":{"field":"hi","type":"quantitative","title":null},"y":{"field":"m2","type":"quantitative","axis":{"title":"Counts","values":[0,5,10,15,20],"labelAngle":-90,"labelOverlap":false}},"text":{"value":"M2"}}}
]}]},
{"width":64,"height":61,"layer":[
{"data":{"name":"curves"},"transform":[{"filter":"datum.p == 'b3'"}],"mark":{"type":"line","color":"black","strokeWidth":0.9},"encoding":{"x":{"field":"x","type":"quantitative","scale":{"domain":[0,4],"nice":false,"zero":false},"axis":{"title":null,"values":[0,0.301,0.477,0.602,0.699,0.778,0.845,0.903,0.954,1,1.301,1.477,1.602,1.699,1.778,1.845,1.903,1.954,2,2.301,2.477,2.602,2.699,2.778,2.845,2.903,2.954,3,3.301,3.477,3.602,3.699,3.778,3.845,3.903,3.954,4],"labelExpr":"datum.value == 0 ? '10⁰' : (datum.value == 4 ? '10⁴' : '')","labelOverlap":false,"labelFlush":false,"labelFontSize":9,"labelColor":"#222","labelPadding":1,"tickSize":3,"tickColor":"#111","domain":false,"grid":false}},"y":{"field":"n","type":"quantitative","scale":{"domain":[-0.8,20.2],"nice":false,"zero":false},"axis":{"title":"Counts","values":[0,5,10,15,20],"labelAngle":-90,"labelOverlap":false,"labelFontSize":8.5,"labelColor":"#222","labelPadding":2,"tickSize":4,"tickColor":"#111","domain":false,"grid":false,"titleFontSize":8,"titleFontWeight":"normal","titleColor":"#222","titlePadding":2}}}},
{"data":{"name":"gates"},"transform":[{"filter":"datum.p == 'b3'"}],"layer":[
{"mark":{"type":"rule","color":"#333","strokeWidth":1},"encoding":{"x":{"field":"lo","type":"quantitative","title":null},"x2":{"field":"sep"},"y":{"field":"m1","type":"quantitative","axis":{"title":"Counts","values":[0,5,10,15,20],"labelAngle":-90,"labelOverlap":false}}}},
{"mark":{"type":"rule","color":"#333","strokeWidth":1},"encoding":{"x":{"field":"sep","type":"quantitative","title":null},"x2":{"field":"hi"},"y":{"field":"m2","type":"quantitative","axis":{"title":"Counts","values":[0,5,10,15,20],"labelAngle":-90,"labelOverlap":false}}}},
{"mark":{"type":"tick","orient":"vertical","size":9,"thickness":1.5,"color":"#111"},"encoding":{"x":{"field":"sep","type":"quantitative","title":null},"y":{"field":"m1","type":"quantitative","axis":{"title":"Counts","values":[0,5,10,15,20],"labelAngle":-90,"labelOverlap":false}}}},
{"mark":{"type":"tick","orient":"vertical","size":9,"thickness":1.5,"color":"#111"},"encoding":{"x":{"field":"sep","type":"quantitative","title":null},"y":{"field":"m2","type":"quantitative","axis":{"title":"Counts","values":[0,5,10,15,20],"labelAngle":-90,"labelOverlap":false}}}},
{"mark":{"type":"tick","orient":"vertical","size":9,"thickness":2,"color":"#111"},"encoding":{"x":{"field":"lo","type":"quantitative","title":null},"y":{"field":"m1","type":"quantitative","axis":{"title":"Counts","values":[0,5,10,15,20],"labelAngle":-90,"labelOverlap":false}}}},
{"mark":{"type":"tick","orient":"vertical","size":10,"thickness":2.5,"color":"#111"},"encoding":{"x":{"field":"hi","type":"quantitative","title":null},"y":{"field":"m2","type":"quantitative","axis":{"title":"Counts","values":[0,5,10,15,20],"labelAngle":-90,"labelOverlap":false}}}},
{"mark":{"type":"text","align":"left","baseline":"alphabetic","dx":1,"dy":1,"font":"Liberation Serif","fontWeight":"bold","fontSize":11.5,"color":"black"},"encoding":{"x":{"field":"sep","type":"quantitative","title":null},"y":{"field":"m1","type":"quantitative","axis":{"title":"Counts","values":[0,5,10,15,20],"labelAngle":-90,"labelOverlap":false}},"text":{"field":"pct"}}},
{"mark":{"type":"text","align":"right","baseline":"top","dx":-4,"dy":2,"fontSize":8,"color":"#555"},"encoding":{"x":{"field":"sep","type":"quantitative","title":null},"y":{"field":"m1","type":"quantitative","axis":{"title":"Counts","values":[0,5,10,15,20],"labelAngle":-90,"labelOverlap":false}},"text":{"value":"M1"}}},
{"mark":{"type":"text","align":"right","baseline":"top","dx":-4,"dy":2,"fontSize":8,"color":"#555"},"encoding":{"x":{"field":"hi","type":"quantitative","title":null},"y":{"field":"m2","type":"quantitative","axis":{"title":"Counts","values":[0,5,10,15,20],"labelAngle":-90,"labelOverlap":false}},"text":{"value":"M2"}}}
]}]},
{"width":64,"height":61,"layer":[
{"data":{"name":"curves"},"transform":[{"filter":"datum.p == 'b4'"}],"mark":{"type":"line","color":"black","strokeWidth":0.9},"encoding":{"x":{"field":"x","type":"quantitative","scale":{"domain":[0,4],"nice":false,"zero":false},"axis":{"title":null,"values":[0,0.301,0.477,0.602,0.699,0.778,0.845,0.903,0.954,1,1.301,1.477,1.602,1.699,1.778,1.845,1.903,1.954,2,2.301,2.477,2.602,2.699,2.778,2.845,2.903,2.954,3,3.301,3.477,3.602,3.699,3.778,3.845,3.903,3.954,4],"labelExpr":"datum.value == 0 ? '10⁰' : (datum.value == 4 ? '10⁴' : '')","labelOverlap":false,"labelFlush":false,"labelFontSize":9,"labelColor":"#222","labelPadding":1,"tickSize":3,"tickColor":"#111","domain":false,"grid":false}},"y":{"field":"n","type":"quantitative","scale":{"domain":[-0.8,20.2],"nice":false,"zero":false},"axis":{"title":"Counts","values":[0,5,10,15,20],"labelAngle":-90,"labelOverlap":false,"labelFontSize":8.5,"labelColor":"#222","labelPadding":2,"tickSize":4,"tickColor":"#111","domain":false,"grid":false,"titleFontSize":8,"titleFontWeight":"normal","titleColor":"#222","titlePadding":2}}}},
{"data":{"name":"gates"},"transform":[{"filter":"datum.p == 'b4'"}],"layer":[
{"mark":{"type":"rule","color":"#333","strokeWidth":1},"encoding":{"x":{"field":"lo","type":"quantitative","title":null},"x2":{"field":"sep"},"y":{"field":"m1","type":"quantitative","axis":{"title":"Counts","values":[0,5,10,15,20],"labelAngle":-90,"labelOverlap":false}}}},
{"mark":{"type":"rule","color":"#333","strokeWidth":1},"encoding":{"x":{"field":"sep","type":"quantitative","title":null},"x2":{"field":"hi"},"y":{"field":"m2","type":"quantitative","axis":{"title":"Counts","values":[0,5,10,15,20],"labelAngle":-90,"labelOverlap":false}}}},
{"mark":{"type":"tick","orient":"vertical","size":9,"thickness":1.5,"color":"#111"},"encoding":{"x":{"field":"sep","type":"quantitative","title":null},"y":{"field":"m1","type":"quantitative","axis":{"title":"Counts","values":[0,5,10,15,20],"labelAngle":-90,"labelOverlap":false}}}},
{"mark":{"type":"tick","orient":"vertical","size":9,"thickness":1.5,"color":"#111"},"encoding":{"x":{"field":"sep","type":"quantitative","title":null},"y":{"field":"m2","type":"quantitative","axis":{"title":"Counts","values":[0,5,10,15,20],"labelAngle":-90,"labelOverlap":false}}}},
{"mark":{"type":"tick","orient":"vertical","size":9,"thickness":2,"color":"#111"},"encoding":{"x":{"field":"lo","type":"quantitative","title":null},"y":{"field":"m1","type":"quantitative","axis":{"title":"Counts","values":[0,5,10,15,20],"labelAngle":-90,"labelOverlap":false}}}},
{"mark":{"type":"tick","orient":"vertical","size":10,"thickness":2.5,"color":"#111"},"encoding":{"x":{"field":"hi","type":"quantitative","title":null},"y":{"field":"m2","type":"quantitative","axis":{"title":"Counts","values":[0,5,10,15,20],"labelAngle":-90,"labelOverlap":false}}}},
{"mark":{"type":"text","align":"left","baseline":"alphabetic","dx":1,"dy":1,"font":"Liberation Serif","fontWeight":"bold","fontSize":11.5,"color":"black"},"encoding":{"x":{"field":"sep","type":"quantitative","title":null},"y":{"field":"m1","type":"quantitative","axis":{"title":"Counts","values":[0,5,10,15,20],"labelAngle":-90,"labelOverlap":false}},"text":{"field":"pct"}}},
{"mark":{"type":"text","align":"right","baseline":"top","dx":-4,"dy":2,"fontSize":8,"color":"#555"},"encoding":{"x":{"field":"sep","type":"quantitative","title":null},"y":{"field":"m1","type":"quantitative","axis":{"title":"Counts","values":[0,5,10,15,20],"labelAngle":-90,"labelOverlap":false}},"text":{"value":"M1"}}},
{"mark":{"type":"text","align":"right","baseline":"top","dx":-4,"dy":2,"fontSize":8,"color":"#555"},"encoding":{"x":{"field":"hi","type":"quantitative","title":null},"y":{"field":"m2","type":"quantitative","axis":{"title":"Counts","values":[0,5,10,15,20],"labelAngle":-90,"labelOverlap":false}},"text":{"value":"M2"}}}
]}]},
{"width":64,"height":61,
"title":{"text":"60 μg/ml","orient":"right","angle":0,"align":"left","baseline":"middle","anchor":"middle","offset":13,"dy":-8,"font":"Liberation Serif","fontWeight":"bold","fontSize":12.5,"color":"black"},
"layer":[
{"data":{"name":"curves"},"transform":[{"filter":"datum.p == 'b5'"}],"mark":{"type":"line","color":"black","strokeWidth":0.9},"encoding":{"x":{"field":"x","type":"quantitative","scale":{"domain":[0,4],"nice":false,"zero":false},"axis":{"title":null,"values":[0,0.301,0.477,0.602,0.699,0.778,0.845,0.903,0.954,1,1.301,1.477,1.602,1.699,1.778,1.845,1.903,1.954,2,2.301,2.477,2.602,2.699,2.778,2.845,2.903,2.954,3,3.301,3.477,3.602,3.699,3.778,3.845,3.903,3.954,4],"labelExpr":"datum.value == 0 ? '10⁰' : (datum.value == 4 ? '10⁴' : '')","labelOverlap":false,"labelFlush":false,"labelFontSize":9,"labelColor":"#222","labelPadding":1,"tickSize":3,"tickColor":"#111","domain":false,"grid":false}},"y":{"field":"n","type":"quantitative","scale":{"domain":[-2.5,63.6],"nice":false,"zero":false},"axis":{"title":"Counts","values":[0,60],"labelAngle":-90,"labelOverlap":false,"labelFontSize":8.5,"labelColor":"#222","labelPadding":2,"tickSize":4,"tickColor":"#111","domain":false,"grid":false,"titleFontSize":8,"titleFontWeight":"normal","titleColor":"#222","titlePadding":2}}}},
{"data":{"name":"gates"},"transform":[{"filter":"datum.p == 'b5'"}],"layer":[
{"mark":{"type":"rule","color":"#333","strokeWidth":1},"encoding":{"x":{"field":"lo","type":"quantitative","title":null},"x2":{"field":"sep"},"y":{"field":"m1","type":"quantitative","axis":{"title":"Counts","values":[0,60],"labelAngle":-90,"labelOverlap":false}}}},
{"mark":{"type":"rule","color":"#333","strokeWidth":1},"encoding":{"x":{"field":"sep","type":"quantitative","title":null},"x2":{"field":"hi"},"y":{"field":"m2","type":"quantitative","axis":{"title":"Counts","values":[0,60],"labelAngle":-90,"labelOverlap":false}}}},
{"mark":{"type":"tick","orient":"vertical","size":9,"thickness":1.5,"color":"#111"},"encoding":{"x":{"field":"sep","type":"quantitative","title":null},"y":{"field":"m1","type":"quantitative","axis":{"title":"Counts","values":[0,60],"labelAngle":-90,"labelOverlap":false}}}},
{"mark":{"type":"tick","orient":"vertical","size":9,"thickness":1.5,"color":"#111"},"encoding":{"x":{"field":"sep","type":"quantitative","title":null},"y":{"field":"m2","type":"quantitative","axis":{"title":"Counts","values":[0,60],"labelAngle":-90,"labelOverlap":false}}}},
{"mark":{"type":"tick","orient":"vertical","size":9,"thickness":2,"color":"#111"},"encoding":{"x":{"field":"lo","type":"quantitative","title":null},"y":{"field":"m1","type":"quantitative","axis":{"title":"Counts","values":[0,60],"labelAngle":-90,"labelOverlap":false}}}},
{"mark":{"type":"tick","orient":"vertical","size":10,"thickness":2.5,"color":"#111"},"encoding":{"x":{"field":"hi","type":"quantitative","title":null},"y":{"field":"m2","type":"quantitative","axis":{"title":"Counts","values":[0,60],"labelAngle":-90,"labelOverlap":false}}}},
{"mark":{"type":"text","align":"left","baseline":"alphabetic","dx":1,"dy":1,"font":"Liberation Serif","fontWeight":"bold","fontSize":11.5,"color":"black"},"encoding":{"x":{"field":"sep","type":"quantitative","title":null},"y":{"field":"m1","type":"quantitative","axis":{"title":"Counts","values":[0,60],"labelAngle":-90,"labelOverlap":false}},"text":{"field":"pct"}}},
{"mark":{"type":"text","align":"right","baseline":"top","dx":-4,"dy":2,"fontSize":8,"color":"#555"},"encoding":{"x":{"field":"sep","type":"quantitative","title":null},"y":{"field":"m1","type":"quantitative","axis":{"title":"Counts","values":[0,60],"labelAngle":-90,"labelOverlap":false}},"text":{"value":"M1"}}},
{"mark":{"type":"text","align":"right","baseline":"top","dx":-4,"dy":2,"fontSize":8,"color":"#555"},"encoding":{"x":{"field":"hi","type":"quantitative","title":null},"y":{"field":"m2","type":"quantitative","axis":{"title":"Counts","values":[0,60],"labelAngle":-90,"labelOverlap":false}},"text":{"value":"M2"}}}
]}]}
]},
{"width":407,"height":2,"view":{"stroke":null},
"data":{"values":[{"axisLabel":"TUNEL（FITC）"}]},
"encoding":{"y":{"field":"axisLabel","type":"nominal","axis":null}},
"layer":[
{"mark":{"type":"rule","color":"black","strokeWidth":2}},
{"mark":{"type":"point","shape":"M -1 -0.4 L 0 0 L -1 0.4","filled":false,"color":"black","strokeWidth":1.6,"size":400,"opacity":1},"encoding":{"x":{"value":"width"}}},
{"mark":{"type":"text","align":"left","baseline":"middle","dx":10,"font":"Liberation Serif","fontWeight":"bold","fontSize":13.5,"color":"black"},"encoding":{"x":{"value":"width"},"text":{"field":"axisLabel"}}}
]},
{"width":508,"height":20,"view":{"stroke":null},"data":{"name":"timepoints"},
"mark":{"type":"text","font":"Liberation Serif","fontWeight":"bold","fontSize":13.5,"color":"black"},
"encoding":{"x":{"field":"t","type":"nominal","sort":null,"scale":{"type":"point","padding":0.288},"axis":null},"text":{"field":"t"}}}
]
},
{
"title":{"text":"B","orient":"left","angle":0,"anchor":"end","align":"right","baseline":"top","offset":-5,"dy":-10,"font":"Liberation Serif","fontSize":32,"fontWeight":"bold","color":"black"},
"data":{"name":"panelB"},
"spacing":{"row":3,"column":4},
"facet":{
"row":{"field":"cell","type":"nominal","sort":["CD3+","B220+"],"title":"Apoptotic lymphocytes (%)","header":{"labelOrient":"right","titleOrient":"left","labelAngle":-90,"labelAlign":"center","labelBaseline":"top","labelFont":"Liberation Serif","labelFontWeight":"bold","labelFontSize":16,"labelColor":"black","labelPadding":-9,"titleFont":"Liberation Serif","titleFontWeight":"bold","titleFontSize":17,"titleColor":"black","titlePadding":-6}},
"column":{"field":"grp","type":"nominal","sort":["Naive","Immunized","Infected"],"title":null,"header":{"labelFont":"Liberation Serif","labelFontWeight":"bold","labelFontSize":15,"labelColor":"black","labelPadding":5}}
},
"spec":{"width":119,"height":149,"view":{"stroke":"#888","strokeWidth":1.5},
"layer":[
{"transform":[{"filter":"isValid(datum.mean)"}],"mark":{"type":"bar","stroke":"black","strokeWidth":1},
"encoding":{"x":{"field":"dose","type":"nominal","sort":["Medium","40","80","120"],"scale":{"domain":["Medium","40","80","120"],"paddingInner":0.075,"paddingOuter":0.3},"axis":null},
"y":{"field":"mean","type":"quantitative","scale":{"domain":[0,84.7],"nice":false},"axis":{"title":null,"values":[0,20,40,60,80],"labelOverlap":false,"labelFont":"Liberation Sans Narrow, Liberation Sans","labelFontWeight":"bold","labelFontSize":11,"labelColor":"black","labelPadding":1,"tickSize":4,"tickColor":"black","tickWidth":1.2,"domain":false,"grid":false}},
"fill":{"field":"dose","type":"nominal","scale":{"domain":["Medium","40","80","120"],"range":["#ffffff","#e4e4e4","#c6c6c6","#8e8e8e"]},"legend":{"title":null,"orient":"none","legendX":394,"legendY":261,"symbolType":"square","symbolSize":95,"symbolStrokeColor":"black","symbolStrokeWidth":1,"labelFont":"Liberation Serif","labelFontWeight":"bold","labelFontSize":11.5,"labelColor":"black","labelOffset":6,"rowPadding":3,"labelExpr":"datum.label == 'Medium' ? 'Medium' : (datum.label == '120' ? '120 μg/ml' : datum.label + '   μg/ml')"}}}},
{"transform":[{"filter":"isValid(datum.mean)"}],"mark":{"type":"rule","color":"black","strokeWidth":1.3},"encoding":{"x":{"field":"dose","type":"nominal","axis":null},"y":{"field":"lo","type":"quantitative","axis":{"title":null,"values":[0,20,40,60,80],"labelOverlap":false}},"y2":{"field":"hi"}}},
{"transform":[{"filter":"isValid(datum.mean)"}],"mark":{"type":"tick","orient":"horizontal","size":8,"thickness":1.5,"color":"black"},"encoding":{"x":{"field":"dose","type":"nominal","axis":null},"y":{"field":"lo","type":"quantitative","axis":{"title":null,"values":[0,20,40,60,80],"labelOverlap":false}}}},
{"transform":[{"filter":"isValid(datum.mean)"}],"mark":{"type":"tick","orient":"horizontal","size":8,"thickness":1.5,"color":"black"},"encoding":{"x":{"field":"dose","type":"nominal","axis":null},"y":{"field":"hi","type":"quantitative","axis":{"title":null,"values":[0,20,40,60,80],"labelOverlap":false}}}},
{"transform":[{"filter":"isValid(datum.bk)"}],"mark":{"type":"line","color":"#222","strokeWidth":1},"encoding":{"x":{"field":"end","type":"nominal","axis":null},"y":{"field":"level","type":"quantitative","axis":{"title":null,"values":[0,20,40,60,80],"labelOverlap":false}},"detail":{"field":"bk"}}},
{"transform":[{"filter":"isValid(datum.bk)"}],"mark":{"type":"tick","orient":"vertical","size":8,"thickness":1,"color":"#222","yOffset":4},"encoding":{"x":{"field":"end","type":"nominal","axis":null},"y":{"field":"level","type":"quantitative","axis":{"title":null,"values":[0,20,40,60,80],"labelOverlap":false}}}},
{"transform":[{"filter":"isValid(datum.stars)"}],"mark":{"type":"text","font":"Liberation Sans","fontWeight":"bold","fontSize":17,"baseline":"middle","dy":4,"color":"black"},"encoding":{"x":{"field":"at","type":"nominal","axis":null},"y":{"field":"sy","type":"quantitative","axis":{"title":null,"values":[0,20,40,60,80],"labelOverlap":false}},"text":{"field":"stars"}}}
]}
}
]
}
